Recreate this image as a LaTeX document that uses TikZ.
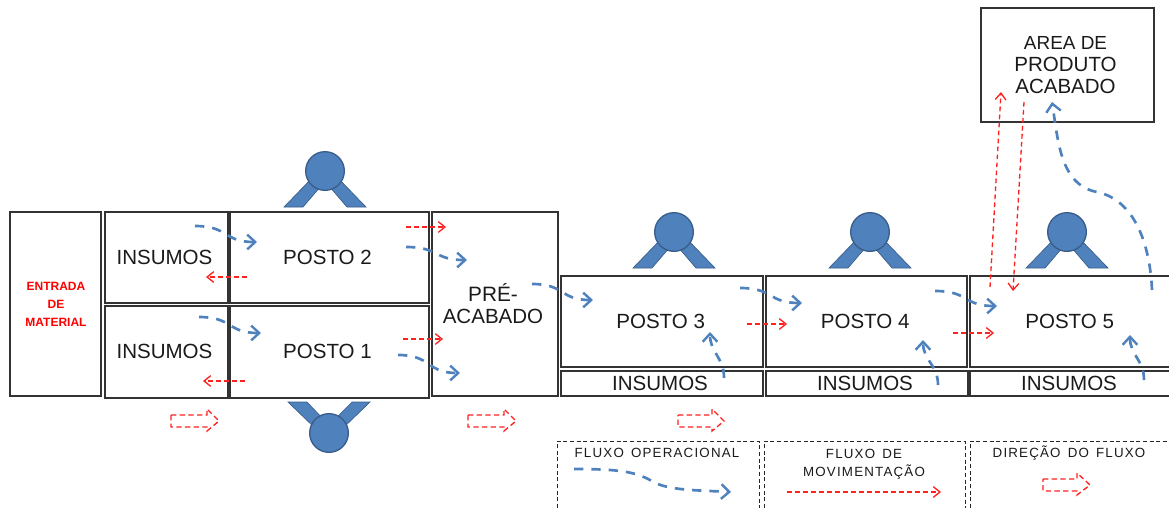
\documentclass[tikz,border=0pt]{standalone}
\usepackage{fontspec}
\setmainfont{Liberation Sans}
\usetikzlibrary{arrows.meta}
\definecolor{pblue}{HTML}{4F81BD}
\definecolor{pedge}{HTML}{385D8A}
\definecolor{pred}{HTML}{FF2020}
\definecolor{ptext}{HTML}{1A1A1A}
\tikzset{
  boxn/.style={draw=black!80,line width=1.1pt,inner sep=0pt,outer sep=0pt,align=center,font=\fontsize{15.4}{16.5}\selectfont,text=ptext},
  headn/.style={circle,fill=pblue,draw=pedge,line width=1pt,minimum size=29pt,inner sep=0pt},
  legn/.style={fill=pblue,draw=pedge,line width=.5pt},
  blueflow/.style={draw=pblue,line width=2pt,dash pattern=on 7pt off 6pt,-{Straight Barb[length=6pt,width=11pt,line width=1.8pt]}},
  redflow/.style={draw=pred,line width=1pt,dash pattern=on 3.5pt off 2.5pt,-{Straight Barb[length=5pt,width=8pt,line width=1pt]}},
  blockarrow/.style={draw=pred,line width=1pt,dash pattern=on 4pt off 2.5pt,fill=none},
  panel/.style={draw=black!85,line width=.7pt,dash pattern=on 3pt off 2pt},
  legtext/.style={inner sep=0pt,align=center,text=ptext,font=\fontsize{10}{13.5}\selectfont\addfontfeatures{LetterSpace=9}},
  redtext/.style={inner sep=0pt,text=red,font=\bfseries\fontsize{9}{9}\selectfont}
}
\newcommand{\bx}[6]{\node[boxn,minimum width={(#4-#2)*0.75pt},minimum height={(#5-#3)*0.75pt}] (#1) at ({(#2+#4)/2},{(#3+#5)/2}) {#6};}
\newcommand{\person}[3]{% name, cx, base y
  \fill[legn] (#2-41,#3) -- (#2-12,#3-30) -- (#2-4,#3-21) -- (#2-22,#3) -- cycle;
  \fill[legn] (#2+41,#3) -- (#2+12,#3-30) -- (#2+4,#3-21) -- (#2+22,#3) -- cycle;
  \node[headn] (#1) at (#2,#3-36) {};}
\newcommand{\blockarr}[6]{% name, x1, xhead, xtip, ymid
  \coordinate (#1) at (#2,#5);
  \draw[blockarrow] (#1) ++(0,-6) -- (#3,#5-6) -- (#3,#5-12) -- (#4,#5) -- (#3,#5+10) -- (#3,#5+6) -- (#2,#5+6) -- cycle;}
\newcommand{\bflow}[5]{% S-shaped blue flow between named end points
  \coordinate (#1s) at (#2,#3); \coordinate (#1e) at (#4,#5);
  \draw[blueflow] (#1s) .. controls ({#2+(#4-#2)*.55},{#3}) and ({#2+(#4-#2)*.45},{#5}) .. (#1e);}
\newcommand{\vflow}[5]{%
  \coordinate (#1s) at (#2,#3); \coordinate (#1e) at (#4,#5);
  \draw[blueflow] (#1s) .. controls (#2,{#3-(#3-#5)*.45}) and (#4,{#3-(#3-#5)*.55}) .. (#1e);}
\newcommand{\rflow}[5]{%
  \coordinate (#1s) at (#2,#3); \coordinate (#1e) at (#4,#5);
  \draw[redflow] (#1s) -- (#1e);}
\begin{document}
\begin{tikzpicture}[x=0.75pt,y=-0.75pt]
\useasboundingbox (0,0) rectangle (1169,508);
% boxes
\bx{entrada}{10}{212}{101}{396}{}
\bx{insB}{105}{212}{228}{303}{\hspace*{-3pt}INSUMOS}
\bx{posto2}{230}{212}{429}{303}{\hspace*{-3pt}POSTO 2}
\bx{insA}{105}{306}{228}{398}{\raisebox{1.5pt}{\hspace*{-3pt}INSUMOS}}
\bx{posto1}{230}{306}{429}{398}{\raisebox{1.5pt}{\hspace*{-3pt}POSTO 1}}
\bx{pre}{432}{212}{558}{396}{\fontsize{15.6}{18}\selectfont \hspace*{-3pt}PRÉ-\\\hspace*{-3pt}ACABADO}
\bx{posto3}{561}{276}{763}{367}{\hspace*{-2pt}POSTO 3}
\bx{posto4}{766}{276}{967}{367}{\hspace*{-2pt}POSTO 4}
\bx{posto5}{970}{276}{1172}{367}{\hspace*{-2pt}POSTO 5}
\bx{ins3}{561}{371}{763}{396}{\hspace*{-3pt}INSUMOS}
\bx{ins4}{766}{371}{968}{396}{\hspace*{-3pt}INSUMOS}
\bx{ins5}{970}{371}{1172}{396}{\hspace*{-3pt}INSUMOS}
\bx{area}{981}{8}{1154}{122}{\fontsize{14.2}{16.5}\selectfont\hspace*{-3pt}AREA DE\\\hspace*{-3pt}PRODUTO\\\hspace*{-3pt}ACABADO}
\node[redtext] (t1) at (56,286) {ENTRADA};
\node[redtext] (t2) at (56,304) {DE};
\node[redtext] (t3) at (56,322) {MATERIAL};
% people
\person{p2}{325}{207}
\person{p3}{674}{268}
\person{p4}{870}{268}
\person{p5}{1067}{268}
\fill[legn] (288,402) -- (307,402) -- (325,421) -- (317,430) -- cycle;
\fill[legn] (370,402) -- (352,402) -- (333,421) -- (341,430) -- cycle;
\node[headn] (p1) at (329,433) {};
% blue flows
\bflow{a}{195}{226}{257}{242}
\bflow{b}{199}{317}{261}{333}
\bflow{c}{406}{247}{467}{260}
\bflow{d}{398}{355}{460}{373}
\bflow{e}{532}{284}{593}{300}
\bflow{f}{740}{288}{802}{303}
\bflow{g}{935}{291}{997}{306}
\vflow{h}{724}{378}{710}{332}
\vflow{i}{938}{385}{923}{340}
\vflow{j}{1144}{380}{1130}{335}
\coordinate (ks) at (1152,290); \coordinate (km) at (1097,192); \coordinate (ke) at (1052,102);
\draw[blueflow] (ks) .. controls (1150,245) and (1135,200) .. (km) .. controls (1060,185) and (1058,140) .. (ke);
% red flows
\rflow{r1}{406}{227}{446}{227}
\rflow{r2}{247}{277}{206}{277}
\rflow{r3}{245}{381}{203}{381}
\rflow{r4}{403}{339}{443}{339}
\rflow{r5}{747}{324}{787}{324}
\rflow{r6}{953}{333}{994}{333}
\rflow{r7}{990}{287}{1001}{92}
\rflow{r8}{1024}{102}{1013}{291}
% block arrows
\blockarr{ba1}{171}{207}{219}{421}{}
\blockarr{ba2}{468}{504}{516}{421}{}
\blockarr{ba3}{678}{712}{724}{421}{}
\blockarr{ba4}{1043}{1077}{1090}{485}{}
% legend panels
\coordinate (l1) at (557,508); \coordinate (l2) at (759,441); \coordinate (l3) at (759,508);
\coordinate (l4) at (764,508); \coordinate (l5) at (965,441); \coordinate (l6) at (965,508);
\coordinate (l7) at (970,508); \coordinate (l8) at (1169,441);
\draw[panel] (l1) |- (l2) -- (l3);
\draw[panel] (l4) |- (l5) -- (l6);
\draw[panel] (l7) |- (l8);
\node[legtext] (lt1) at (657,453) {FLUXO\, OPERACIONAL};
\node[legtext] (lt2) at (864,464.5) {FLUXO\, DE\\MOVIMENTAÇÃO};
\node[legtext] (lt3) at (1069,453) {DIREÇÃO\, DO\, FLUXO};
\coordinate (ls) at (574,469); \coordinate (le) at (731,492);
\draw[blueflow] (ls) .. controls (620,469) and (635,472) .. (650,480) .. controls (665,490) and (690,490) .. (le);
\rflow{lr}{787}{492}{941}{492}
\end{tikzpicture}
\end{document}
